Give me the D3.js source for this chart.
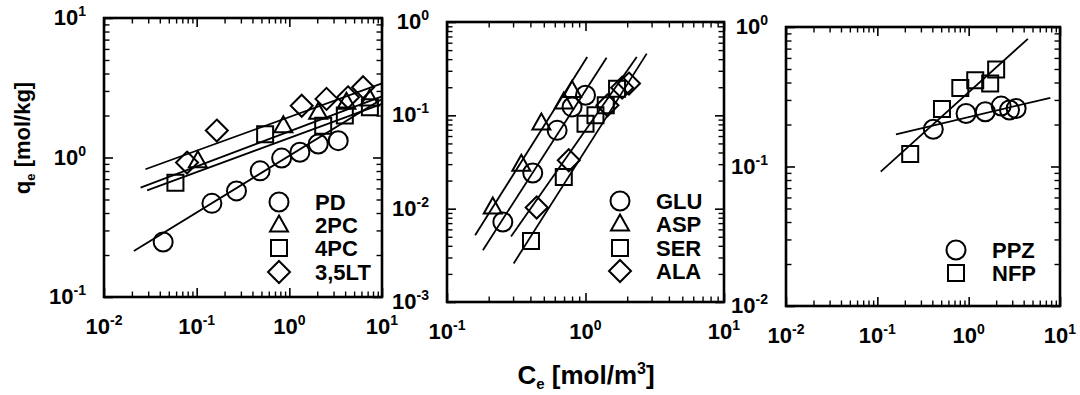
<!DOCTYPE html>
<html>
<head>
<meta charset="utf-8">
<script src="https://cdn.jsdelivr.net/npm/d3@7"></script>
<style>
  body { margin: 0; background: #fff; }
  svg { display: block; }
  text { font-family: "Liberation Sans", Arial, sans-serif; font-weight: bold; fill: #000; }
</style>
</head>
<body>
<svg id="chart" width="1080" height="395"></svg>
<script>
// ---------- Panel 1: aromatic adsorbates ----------
const pdC  = [0.0435, 0.146, 0.269, 0.484, 0.826, 1.30, 2.05, 3.37];
const pdQ  = [0.248, 0.469, 0.576, 0.802, 0.99, 1.09, 1.25, 1.32];
const pc2C = [0.103, 0.861, 2.05, 4.13, 7.38];
const pc2Q = [0.946, 1.69, 2.11, 2.49, 2.63];
const pc4C = [0.059, 0.548, 2.32, 3.97, 7.4];
const pc4Q = [0.66, 1.47, 1.69, 2.0, 2.29];
const ltC  = [0.0787, 0.165, 1.36, 2.52, 4.3, 6.25];
const ltQ  = [0.92, 1.56, 2.35, 2.63, 2.7, 3.19];
const names1 = ["PD", "2PC", "4PC", "3,5LT"];
// Freundlich fits q = K * C^m, drawn between fitFrom and fitTo
const fitK1    = [1.03, 1.54, 1.38, 1.95];
const fitM1    = [0.407, 0.251, 0.245, 0.241];
const fitFrom1 = [0.021, 0.0248, 0.0292, 0.028];
const fitTo1   = [10, 10, 10, 10];

// ---------- Panel 2: amino acids ----------
const gluC = [0.253, 0.416, 0.624, 0.80, 1.0];
const gluQ = [0.0072, 0.0241, 0.069, 0.123, 0.164];
const aspC = [0.214, 0.344, 0.48, 0.697, 0.80];
const aspQ = [0.0104, 0.0299, 0.0828, 0.139, 0.185];
const serC = [0.404, 0.697, 1.0, 1.18, 1.40, 1.69];
const serQ = [0.0045, 0.0218, 0.0815, 0.10, 0.128, 0.193];
const alaC = [0.444, 0.757, 1.44, 1.84, 2.06];
const alaQ = [0.0103, 0.033, 0.128, 0.198, 0.219];
const names2 = ["GLU", "ASP", "SER", "ALA"];
const fitK2    = [Math.pow(10, -0.733), Math.pow(10, -0.404), Math.pow(10, -1.373), Math.pow(10, -1.159)];
const fitM2    = [2.31, 2.36, 2.34, 2.12];
const fitFrom2 = [0.1816, 0.1596, 0.303, 0.29];
const fitTo2   = [1.419, 1.029, 2.767, 2.344];

// ---------- Panel 3: drugs ----------
const ppzC = [0.41, 0.936, 1.52, 2.27, 2.8, 3.31];
const ppzQ = [0.185, 0.24, 0.247, 0.271, 0.254, 0.26];
const nfpC = [0.229, 0.51, 0.81, 1.18, 1.72, 2.0];
const nfpQ = [0.123, 0.258, 0.366, 0.416, 0.394, 0.495];
const names3 = ["PPZ", "NFP"];
const fitK3    = [Math.pow(10, -0.646), Math.pow(10, -0.468)];
const fitM3    = [0.155, 0.591];
const fitFrom3 = [0.16, 0.109];
const fitTo3   = [7.83, 4.45];

// Axis decade exponents
const xExp1 = [-2, -1, 0, 1], yExp1 = [-1, 0, 1];
const xExp2 = [-1, 0, 1],     yExp2 = [-3, -2, -1, 0];
const xExp3 = [-2, -1, 0, 1], yExp3 = [-2, -1, 0];

const svg = d3.select("#chart");
svg.append("rect").attr("width", 1080).attr("height", 395).attr("fill", "#fff");

// marker shapes
function marker(kind) {
  const p = d3.path();
  if (kind === "circle") {
    p.moveTo(9.5, 0); p.arc(0, 0, 9.5, 0, 2 * Math.PI);
  } else if (kind === "triangle") {
    p.moveTo(0, -9.5); p.lineTo(9, 6.5); p.lineTo(-9, 6.5); p.closePath();
  } else if (kind === "square") {
    p.rect(-8, -8, 16, 16);
  } else {
    p.moveTo(0, -11); p.lineTo(11, 0); p.lineTo(0, 11); p.lineTo(-11, 0); p.closePath();
  }
  return p.toString();
}

function decadeTicks(lo, hi) {
  const major = [], minor = [];
  for (let e = lo; e <= hi; e++) {
    major.push(Math.pow(10, e));
    if (e < hi) for (let k = 2; k <= 9; k++) minor.push(k * Math.pow(10, e));
  }
  return { major, minor };
}

// "10" with a superscript exponent
function powLabel(sel, e, anchor) {
  const t = sel.append("text").attr("text-anchor", anchor).attr("font-size", 22);
  t.append("tspan").text("10");
  t.append("tspan").attr("font-size", 14).attr("dy", -9).text(String(e));
  return t;
}

function panel(cfg) {
  const x = d3.scaleLog().domain(cfg.xDom).range([cfg.left, cfg.right]);
  const y = d3.scaleLog().domain(cfg.yDom).range([cfg.bottom, cfg.top]);
  const g = svg.append("g");

  const xt = decadeTicks(cfg.xExp[0], cfg.xExp[cfg.xExp.length - 1]);
  const yt = decadeTicks(cfg.yExp[0], cfg.yExp[cfg.yExp.length - 1]);
  const none = () => "";

  // inward ticks on all four sides: majors then minors
  const sides = () => [
    [d3.axisBottom(x), `translate(0,${cfg.bottom})`, xt],
    [d3.axisTop(x),    `translate(0,${cfg.top})`,    xt],
    [d3.axisLeft(y),   `translate(${cfg.left},0)`,   yt],
    [d3.axisRight(y),  `translate(${cfg.right},0)`,  yt]
  ];
  sides().forEach(([ax, tr, t]) => {
    g.append("g").attr("transform", tr)
      .call(ax.tickValues(t.major).tickSizeInner(-9).tickSizeOuter(0).tickFormat(none))
      .call(s => { s.select(".domain").remove(); s.selectAll("line").attr("stroke", "#000").attr("stroke-width", 1.6); });
  });
  sides().forEach(([ax, tr, t]) => {
    g.append("g").attr("transform", tr)
      .call(ax.tickValues(t.minor).tickSizeInner(-5.5).tickSizeOuter(0).tickFormat(none))
      .call(s => { s.select(".domain").remove(); s.selectAll("line").attr("stroke", "#000").attr("stroke-width", 1.4); });
  });

  // frame
  g.append("rect")
    .attr("x", cfg.left).attr("y", cfg.top)
    .attr("width", cfg.right - cfg.left).attr("height", cfg.bottom - cfg.top)
    .attr("fill", "none").attr("stroke", "#000").attr("stroke-width", 2.6);

  // tick labels
  cfg.xExp.forEach(e => {
    powLabel(g, e, "middle")
      .attr("x", x(Math.pow(10, e)))
      .attr("y", cfg.bottom + 37);
  });
  cfg.yExp.forEach(e => {
    powLabel(g, e, "end")
      .attr("x", cfg.left - 18)
      .attr("y", y(Math.pow(10, e)) + 7);
  });

  // fitted lines
  const line = d3.line().x(d => x(d[0])).y(d => y(d[1]));
  cfg.fitK.forEach((K, i) => {
    const pts = [cfg.fitFrom[i], cfg.fitTo[i]].map(c => [c, K * Math.pow(c, cfg.fitM[i])]);
    g.append("path").attr("d", line(pts))
      .attr("fill", "none").attr("stroke", "#000").attr("stroke-width", 1.8);
  });

  // data markers
  cfg.series.forEach(s => {
    g.append("g").selectAll("path").data(s.c.map((c, i) => [c, s.q[i]])).join("path")
      .attr("d", marker(s.shape))
      .attr("transform", d => `translate(${x(d[0])},${y(d[1])})`)
      .attr("fill", "none").attr("stroke", "#000").attr("stroke-width", 2);
  });

  // legend
  cfg.series.forEach((s, i) => {
    const ly = cfg.legY[i];
    g.append("path").attr("d", marker(s.shape))
      .attr("transform", `translate(${cfg.legX},${ly})`)
      .attr("fill", "none").attr("stroke", "#000").attr("stroke-width", 2);
    g.append("text").attr("x", cfg.legX + 36).attr("y", ly + 8)
      .attr("font-size", 22).text(cfg.names[i]);
  });
}

panel({
  left: 104, right: 382, top: 18, bottom: 297,
  xDom: [0.01, 10], yDom: [0.1, 10], xExp: xExp1, yExp: yExp1,
  fitK: fitK1, fitM: fitM1, fitFrom: fitFrom1, fitTo: fitTo1,
  series: [
    { c: pdC, q: pdQ, shape: "circle" },
    { c: pc2C, q: pc2Q, shape: "triangle" },
    { c: pc4C, q: pc4Q, shape: "square" },
    { c: ltC, q: ltQ, shape: "diamond" }
  ],
  names: names1, legX: 279, legY: [202, 225, 248, 272]
});

panel({
  left: 447, right: 724, top: 22, bottom: 302,
  xDom: [0.1, 10], yDom: [0.001, 1], xExp: xExp2, yExp: yExp2,
  fitK: fitK2, fitM: fitM2, fitFrom: fitFrom2, fitTo: fitTo2,
  series: [
    { c: gluC, q: gluQ, shape: "circle" },
    { c: aspC, q: aspQ, shape: "triangle" },
    { c: serC, q: serQ, shape: "square" },
    { c: alaC, q: alaQ, shape: "diamond" }
  ],
  names: names2, legX: 620, legY: [201, 224, 248, 271]
});

panel({
  left: 786, right: 1060, top: 27, bottom: 306,
  xDom: [0.01, 10], yDom: [0.01, 1], xExp: xExp3, yExp: yExp3,
  fitK: fitK3, fitM: fitM3, fitFrom: fitFrom3, fitTo: fitTo3,
  series: [
    { c: ppzC, q: ppzQ, shape: "circle" },
    { c: nfpC, q: nfpQ, shape: "square" }
  ],
  names: names3, legX: 956, legY: [250, 273]
});

// axis titles
const xTitle = svg.append("text").attr("x", 586).attr("y", 384)
  .attr("text-anchor", "middle").attr("font-size", 26);
xTitle.append("tspan").text("C");
xTitle.append("tspan").attr("font-size", 15).attr("dy", 5).text("e");
xTitle.append("tspan").attr("dy", -5).text(" [mol/m");
xTitle.append("tspan").attr("font-size", 16).attr("dy", -10).text("3");
xTitle.append("tspan").attr("dy", 10).text("]");

const yTitle = svg.append("text")
  .attr("transform", "translate(30,138) rotate(-90)")
  .attr("text-anchor", "middle").attr("font-size", 22);
yTitle.append("tspan").text("q");
yTitle.append("tspan").attr("font-size", 13).attr("dy", 5).text("e");
yTitle.append("tspan").attr("dy", -5).text(" [mol/kg]");
</script>
</body>
</html>
